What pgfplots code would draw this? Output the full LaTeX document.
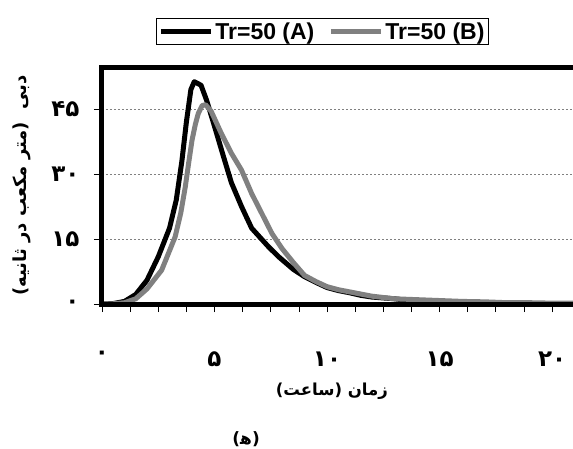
\documentclass[border=0pt]{standalone}
\usepackage{fontspec}
\setmainfont{Liberation Sans}
\newfontfamily\fa[Script=Arabic]{DejaVu Sans}
\TeXXeTstate=1
\usepackage{pgfplots}
\pgfplotsset{compat=1.18}
\definecolor{curveB}{RGB}{128,128,128}

% hydrographs, Tr=50, two cases
\pgfplotstableread{
t Q
0 0
0.5 0.1
1 0.6
1.5 2.2
2 5.5
2.5 10.9
3 17.5
3.3 24
3.55 33
3.75 42
3.95 49.5
4.1 51.3
4.4 50.5
4.65 47
5 41
5.4 34
5.75 28
6.2 22.5
6.65 17.5
7 15.5
7.4 13.2
7.85 10.9
8.5 8
9 6.3
9.5 5
10 3.8
10.5 3.1
11 2.6
11.5 2.0
12 1.6
12.5 1.4
13 1.2
13.5 0.9
14 0.8
14.5 0.6
15 0.5
16 0.4
17 0.2
18 0.1
19 0.05
20 0
21 0
}\caseA
\pgfplotstableread{
t Q
0 0
0.5 0.05
1 0.3
1.5 1.2
2 3.5
2.65 7.8
3.25 15.5
3.5 21
3.7 27
3.85 32.5
4 37.8
4.15 41.5
4.28 44
4.45 45.8
4.6 46
4.85 44.5
5.3 39.4
5.75 34.8
6.2 30.9
6.65 25.5
7.1 20.9
7.55 16.3
8 12.8
8.5 9.6
9 6.6
9.5 5.2
10 4
10.5 3.3
11 2.8
11.5 2.3
12 1.8
12.5 1.5
13 1.2
13.5 1.1
14 1.0
14.5 0.9
15 0.8
16 0.6
17 0.5
18 0.3
19 0.3
20 0.2
21 0.2
}\caseB

\begin{document}
\begin{tikzpicture}
\useasboundingbox (-102bp,-145bp) rectangle (471bp,304bp);
\begin{axis}[
    at={(0,0)}, anchor=south west, scale only axis,
    width=471bp, height=237bp,
    xmin=0, xmax=20.93, ymin=0, ymax=54.7,
    clip=false,
    axis line style={draw=none},
    xtick={0,5,10,15,20}, xticklabels={۰,۵,۱۰,۱۵,۲۰},
    minor xtick={1.25,2.5,...,20},
    ytick={0,15,30,45}, yticklabels={۰,۱۵,۳۰,۴۵},
    tick align=outside, xtick pos=bottom, ytick pos=left,
    major tick length=8bp, minor tick length=8bp,
    tick style={black, line width=0.8bp},
    ymajorgrids, grid style={gray, dash pattern=on 2bp off 2bp, line width=0.8bp},
    tick label style={font=\fa\bfseries\fontsize{23bp}{23bp}\selectfont},
    xticklabel style={yshift=-36bp},
    yticklabel style={xshift=-11bp},
    xlabel={\fa\bfseries\fontsize{16.5bp}{16.5bp}\selectfont\beginR زمان (ساعت)\endR},
    xlabel style={at={(rel axis cs:0.488,-0.367)}, anchor=center},
    ylabel={\fa\bfseries\fontsize{18bp}{18bp}\selectfont\beginR دبی\ \ (متر مکعب در ثانیه)\endR},
    ylabel style={at={(rel axis cs:-0.17,0.5)}, anchor=center, rotate=0},
    legend columns=2,
    legend style={at={(0.468,1)}, anchor=south, yshift=22bp,
      draw=black, line width=0.8bp, inner sep=2bp,
      font=\bfseries\fontsize{23bp}{23bp}\selectfont,
      /tikz/every even column/.append style={column sep=12bp}},
    legend image code/.code={\draw[#1] (0bp,0bp) -- (50bp,0bp);},
  ]
  \addplot[black, line width=5bp, line join=round] table[x=t, y=Q] {\caseA};
  \addlegendentry{Tr=50 (A)}
  \addplot[curveB, line width=5bp, line join=round] table[x=t, y=Q] {\caseB};
  \addlegendentry{Tr=50 (B)}
  \draw[black, line width=5bp, line join=miter]
    (rel axis cs:1.02,1) -- (rel axis cs:0,1) -- (rel axis cs:0,0) -- (rel axis cs:1.02,0);
  \node[font=\fa\bfseries\fontsize{17bp}{17bp}\selectfont]
    at (rel axis cs:0.306,-0.57) {\beginR(ه‍)\endR};
\end{axis}
\end{tikzpicture}
\end{document}
